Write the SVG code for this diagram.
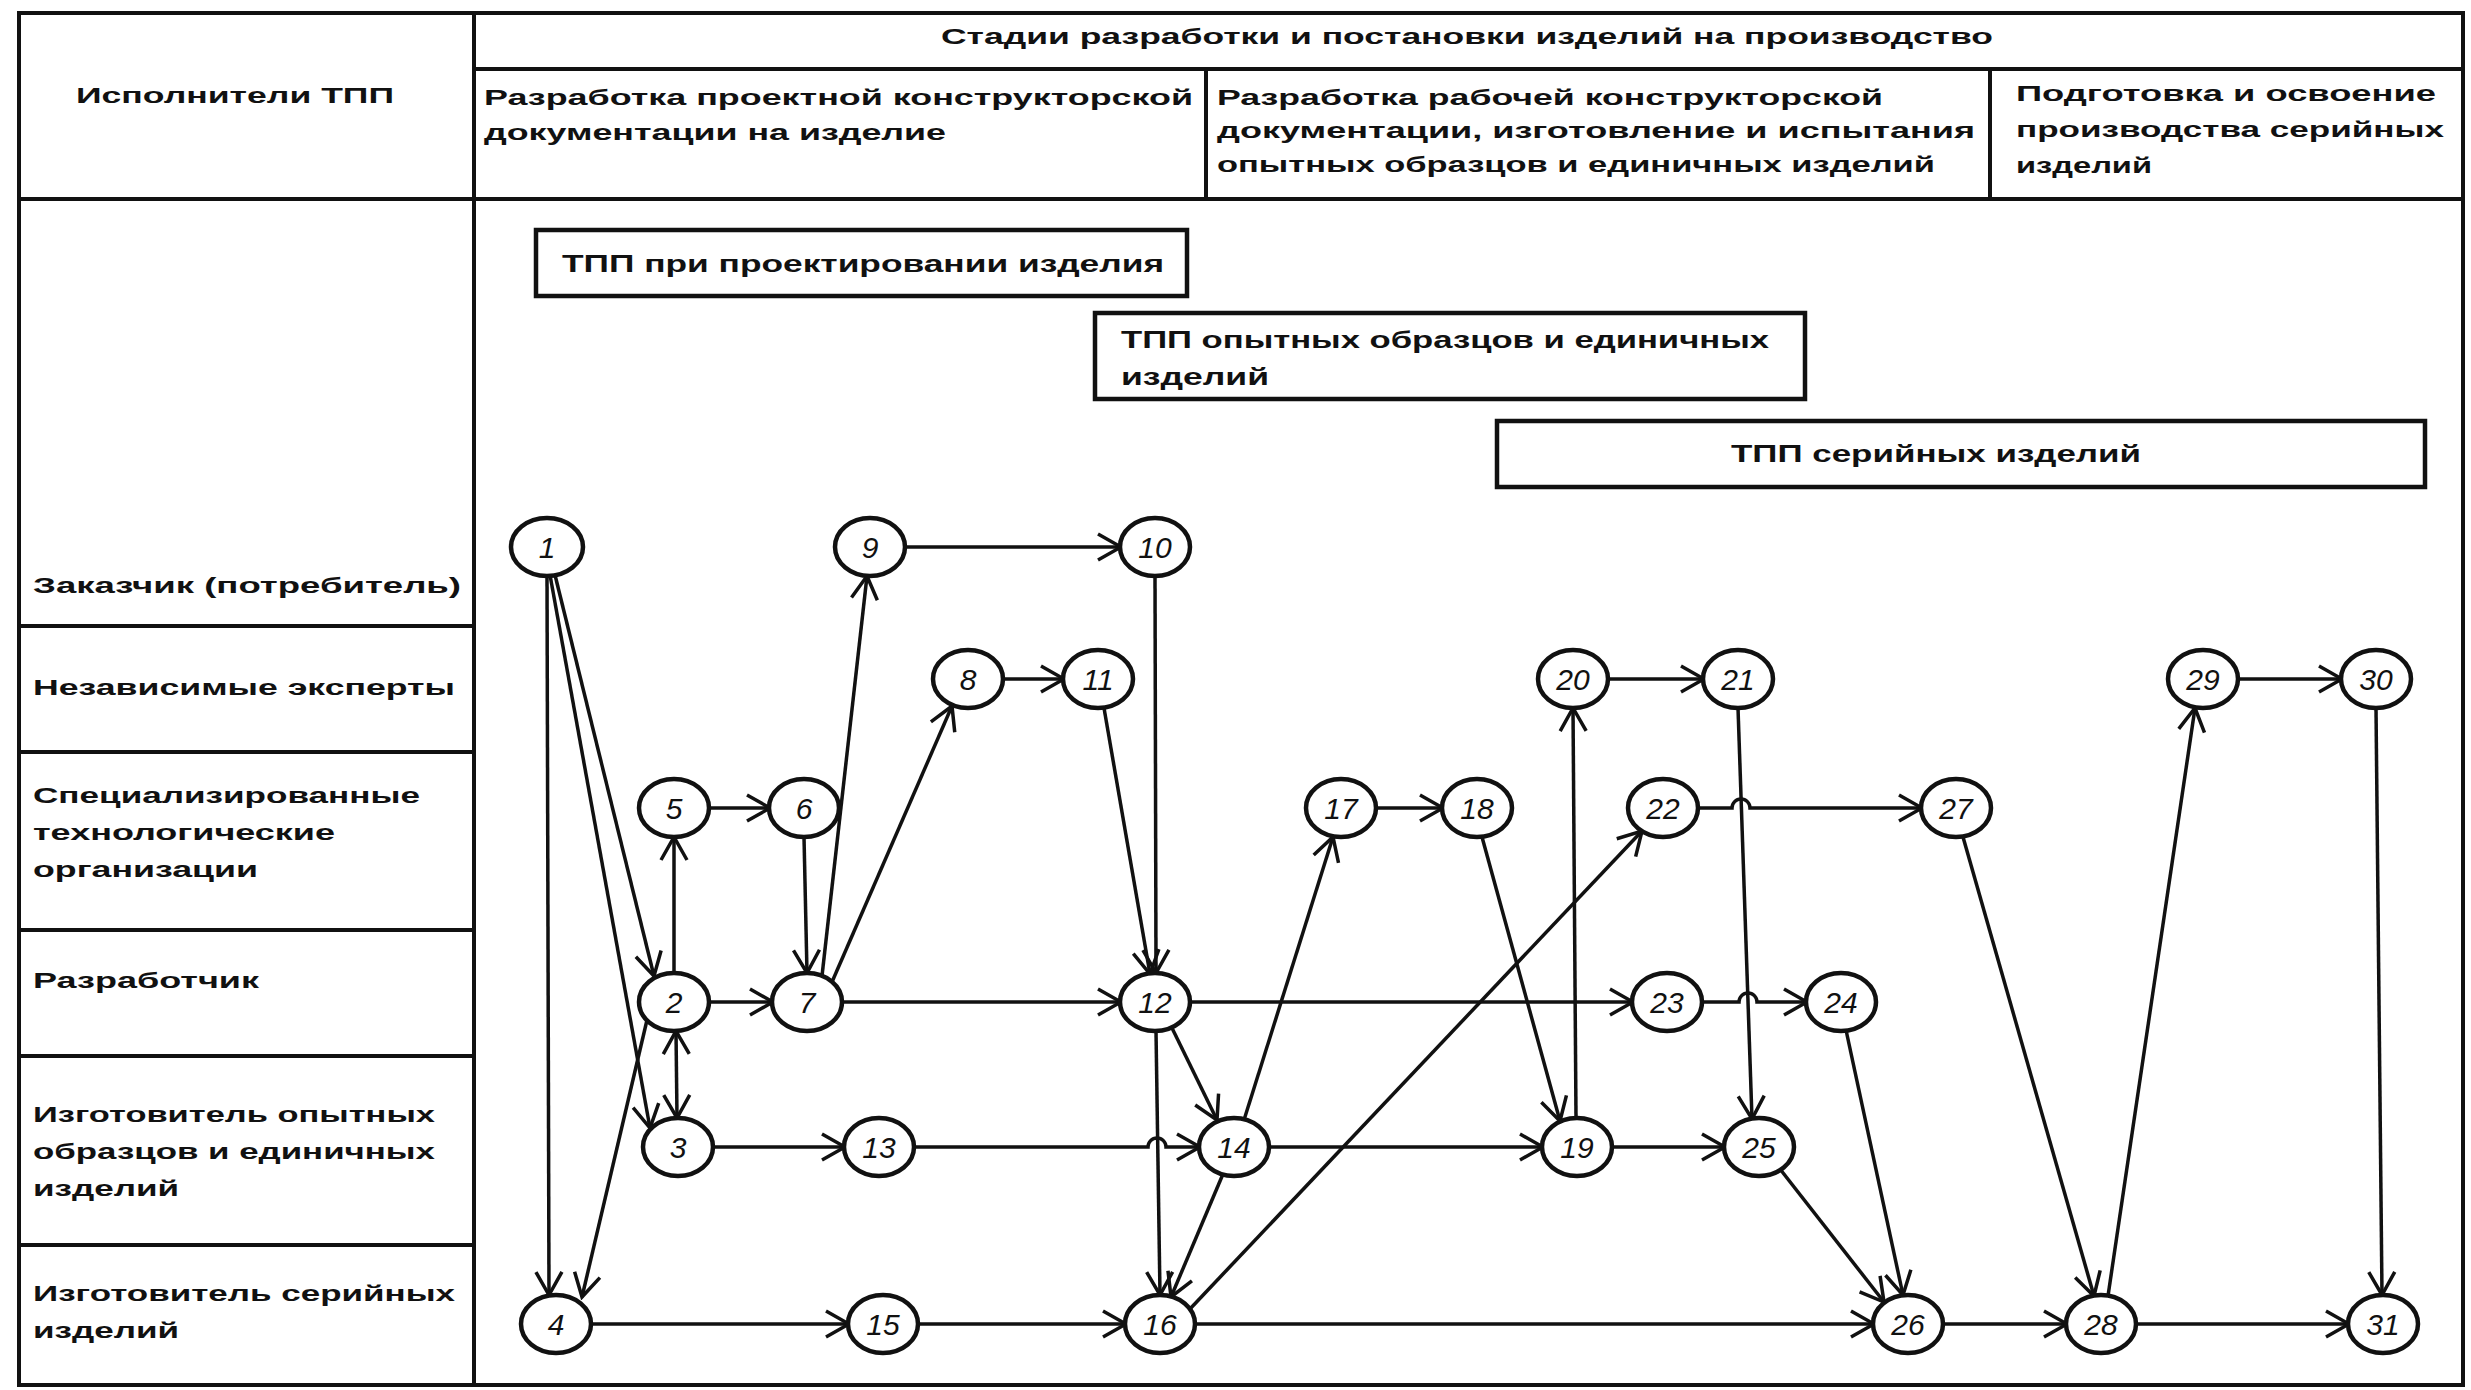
<svg xmlns="http://www.w3.org/2000/svg" width="2471" height="1390" viewBox="0 0 2471 1390">
<style>
.frame{fill:none;stroke:#111;stroke-width:4}
.ln{stroke:#111;stroke-width:4;fill:none}
.t{font-family:"Liberation Sans","Noto Sans",sans-serif;font-weight:bold;font-size:22px;fill:#111}
.bt{font-family:"Liberation Sans","Noto Sans",sans-serif;font-weight:bold;font-size:24px;fill:#111}
.box{fill:#fff;stroke:#111;stroke-width:4.5}
.node ellipse{fill:#fff;stroke:#111;stroke-width:4.5}
.node text{font-family:"Liberation Sans","DejaVu Sans",sans-serif;font-style:italic;font-size:30px;fill:#111;text-anchor:middle}
.c{stroke:#111;stroke-width:3.5;fill:none;marker-end:url(#arr)}
.c2{marker-start:url(#arr)}
</style>
<defs>
<marker id="arr" markerUnits="userSpaceOnUse" markerWidth="32" markerHeight="32" viewBox="0 0 32 32" refX="29" refY="16" orient="auto-start-reverse">
<path d="M6,3 L29,16 L6,29" fill="none" stroke="#111" stroke-width="3.5"/>
</marker>
</defs>
<rect width="2471" height="1390" fill="#fff"/>

<g id="table">
<rect class="frame" x="19" y="13" width="2444" height="1372"/>
<line class="ln" x1="474" y1="13" x2="474" y2="1385"/>
<line class="ln" x1="474" y1="69" x2="2463" y2="69"/>
<line class="ln" x1="19" y1="199" x2="2463" y2="199"/>
<line class="ln" x1="1206" y1="69" x2="1206" y2="199"/>
<line class="ln" x1="1990" y1="69" x2="1990" y2="199"/>
<line class="ln" x1="19" y1="626" x2="474" y2="626"/>
<line class="ln" x1="19" y1="752" x2="474" y2="752"/>
<line class="ln" x1="19" y1="930" x2="474" y2="930"/>
<line class="ln" x1="19" y1="1056" x2="474" y2="1056"/>
<line class="ln" x1="19" y1="1245" x2="474" y2="1245"/>

<text class="t" x="941" y="44" textLength="1052" lengthAdjust="spacingAndGlyphs">Стадии разработки и постановки изделий на производство</text>
<text class="t" x="76" y="103" textLength="318" lengthAdjust="spacingAndGlyphs">Исполнители ТПП</text>
<text class="t" x="484" y="105" textLength="709" lengthAdjust="spacingAndGlyphs">Разработка проектной конструкторской</text>
<text class="t" x="484" y="140" textLength="462" lengthAdjust="spacingAndGlyphs">документации на изделие</text>
<text class="t" x="1217" y="105" textLength="666" lengthAdjust="spacingAndGlyphs">Разработка рабочей конструкторской</text>
<text class="t" x="1217" y="138" textLength="758" lengthAdjust="spacingAndGlyphs">документации, изготовление и испытания</text>
<text class="t" x="1217" y="172" textLength="718" lengthAdjust="spacingAndGlyphs">опытных образцов и единичных изделий</text>
<text class="t" x="2016" y="101" textLength="420" lengthAdjust="spacingAndGlyphs">Подготовка и освоение</text>
<text class="t" x="2016" y="137" textLength="428" lengthAdjust="spacingAndGlyphs">производства серийных</text>
<text class="t" x="2016" y="173" textLength="136" lengthAdjust="spacingAndGlyphs">изделий</text>

<text class="t" x="33" y="593" textLength="428" lengthAdjust="spacingAndGlyphs">Заказчик (потребитель)</text>
<text class="t" x="33" y="695" textLength="422" lengthAdjust="spacingAndGlyphs">Независимые эксперты</text>
<text class="t" x="33" y="803" textLength="387" lengthAdjust="spacingAndGlyphs">Специализированные</text>
<text class="t" x="33" y="840" textLength="302" lengthAdjust="spacingAndGlyphs">технологические</text>
<text class="t" x="33" y="877" textLength="225" lengthAdjust="spacingAndGlyphs">организации</text>
<text class="t" x="33" y="988" textLength="226" lengthAdjust="spacingAndGlyphs">Разработчик</text>
<text class="t" x="33" y="1122" textLength="402" lengthAdjust="spacingAndGlyphs">Изготовитель опытных</text>
<text class="t" x="33" y="1159" textLength="402" lengthAdjust="spacingAndGlyphs">образцов и единичных</text>
<text class="t" x="33" y="1196" textLength="146" lengthAdjust="spacingAndGlyphs">изделий</text>
<text class="t" x="33" y="1301" textLength="422" lengthAdjust="spacingAndGlyphs">Изготовитель серийных</text>
<text class="t" x="33" y="1338" textLength="146" lengthAdjust="spacingAndGlyphs">изделий</text>
</g>

<g id="box-design">
<rect class="box" x="536" y="230" width="651" height="66"/>
<text class="bt" x="562" y="272" textLength="602" lengthAdjust="spacingAndGlyphs">ТПП при проектировании изделия</text>
</g>
<g id="box-prototype">
<rect class="box" x="1095" y="313" width="710" height="86"/>
<text class="bt" x="1121" y="348" textLength="648" lengthAdjust="spacingAndGlyphs">ТПП опытных образцов и единичных</text>
<text class="bt" x="1121" y="385" textLength="148" lengthAdjust="spacingAndGlyphs">изделий</text>
</g>
<g id="box-serial">
<rect class="box" x="1497" y="421" width="928" height="66"/>
<text class="bt" x="1731" y="462" textLength="410" lengthAdjust="spacingAndGlyphs">ТПП серийных изделий</text>
</g>

<g id="connectors">
<path class="c" d="M555,575 L654,976"/>
<path class="c" d="M550,575 L650,1128"/>
<path class="c" d="M547,575 L549,1295"/>
<path class="c" d="M647,1020 L582,1297"/>
<path class="c" d="M674,973 L674,837"/>
<path class="c c2" d="M676,1031 L677,1118"/>
<path class="c" d="M709,1002 L773,1002"/>
<path class="c" d="M709,808 L770,808"/>
<path class="c" d="M804,837 L807,973"/>
<path class="c" d="M822,976 L867,576"/>
<path class="c" d="M832,982 L952,706"/>
<path class="c" d="M905,547 L1121,547"/>
<path class="c" d="M1003,679 L1064,679"/>
<path class="c" d="M1155,576 L1156,973"/>
<path class="c" d="M1104,708 L1150,974"/>
<path class="c" d="M842,1002 L1121,1002"/>
<path class="c" d="M713,1147 L845,1147"/>
<path class="c" d="M914,1147 L1148,1147 A9,9 0 0 1 1166,1147 L1200,1147"/>
<path class="c" d="M591,1324 L849,1324"/>
<path class="c" d="M918,1324 L1126,1324"/>
<path class="c" d="M1172,1028 L1217,1120"/>
<path class="c" d="M1156,1031 L1160,1295"/>
<path class="c" d="M1223,1174 L1171,1297"/>
<path class="c" d="M1244,1120 L1333,837"/>
<path class="c" d="M1189,1310 L1642,831"/>
<path class="c" d="M1376,808 L1443,808"/>
<path class="c" d="M1482,837 L1560,1121"/>
<path class="c" d="M1190,1002 L1633,1002"/>
<path class="c" d="M1269,1147 L1543,1147"/>
<path class="c" d="M1576,1118 L1573,708"/>
<path class="c" d="M1608,679 L1704,679"/>
<path class="c" d="M1738,708 L1752,1119"/>
<path class="c" d="M1698,808 L1732,808 A9,9 0 0 1 1750,808 L1922,808"/>
<path class="c" d="M1702,1002 L1739,1002 A9,9 0 0 1 1757,1002 L1807,1002"/>
<path class="c" d="M1612,1147 L1725,1147"/>
<path class="c" d="M1846,1030 L1903,1295"/>
<path class="c" d="M1780,1169 L1884,1302"/>
<path class="c" d="M1195,1324 L1874,1324"/>
<path class="c" d="M1943,1324 L2067,1324"/>
<path class="c" d="M1963,837 L2094,1296"/>
<path class="c" d="M2108,1296 L2195,708"/>
<path class="c" d="M2238,679 L2342,679"/>
<path class="c" d="M2376,708 L2382,1295"/>
<path class="c" d="M2136,1324 L2349,1324"/>
</g>

<g id="n1" class="node"><ellipse cx="547" cy="547" rx="36" ry="29"/><text x="547" y="558">1</text></g>
<g id="n2" class="node"><ellipse cx="674" cy="1002" rx="35" ry="29"/><text x="674" y="1013">2</text></g>
<g id="n3" class="node"><ellipse cx="678" cy="1147" rx="35" ry="29"/><text x="678" y="1158">3</text></g>
<g id="n4" class="node"><ellipse cx="556" cy="1324" rx="35" ry="29"/><text x="556" y="1335">4</text></g>
<g id="n5" class="node"><ellipse cx="674" cy="808" rx="35" ry="29"/><text x="674" y="819">5</text></g>
<g id="n6" class="node"><ellipse cx="804" cy="808" rx="35" ry="29"/><text x="804" y="819">6</text></g>
<g id="n7" class="node"><ellipse cx="807" cy="1002" rx="35" ry="29"/><text x="807" y="1013">7</text></g>
<g id="n8" class="node"><ellipse cx="968" cy="679" rx="35" ry="29"/><text x="968" y="690">8</text></g>
<g id="n9" class="node"><ellipse cx="870" cy="547" rx="35" ry="29"/><text x="870" y="558">9</text></g>
<g id="n10" class="node"><ellipse cx="1155" cy="547" rx="35" ry="29"/><text x="1155" y="558">10</text></g>
<g id="n11" class="node"><ellipse cx="1098" cy="679" rx="35" ry="29"/><text x="1098" y="690">11</text></g>
<g id="n12" class="node"><ellipse cx="1155" cy="1002" rx="35" ry="29"/><text x="1155" y="1013">12</text></g>
<g id="n13" class="node"><ellipse cx="879" cy="1147" rx="35" ry="29"/><text x="879" y="1158">13</text></g>
<g id="n14" class="node"><ellipse cx="1234" cy="1147" rx="35" ry="29"/><text x="1234" y="1158">14</text></g>
<g id="n15" class="node"><ellipse cx="883" cy="1324" rx="35" ry="29"/><text x="883" y="1335">15</text></g>
<g id="n16" class="node"><ellipse cx="1160" cy="1324" rx="35" ry="29"/><text x="1160" y="1335">16</text></g>
<g id="n17" class="node"><ellipse cx="1341" cy="808" rx="35" ry="29"/><text x="1341" y="819">17</text></g>
<g id="n18" class="node"><ellipse cx="1477" cy="808" rx="35" ry="29"/><text x="1477" y="819">18</text></g>
<g id="n19" class="node"><ellipse cx="1577" cy="1147" rx="35" ry="29"/><text x="1577" y="1158">19</text></g>
<g id="n20" class="node"><ellipse cx="1573" cy="679" rx="35" ry="29"/><text x="1573" y="690">20</text></g>
<g id="n21" class="node"><ellipse cx="1738" cy="679" rx="35" ry="29"/><text x="1738" y="690">21</text></g>
<g id="n22" class="node"><ellipse cx="1663" cy="808" rx="35" ry="29"/><text x="1663" y="819">22</text></g>
<g id="n23" class="node"><ellipse cx="1667" cy="1002" rx="35" ry="29"/><text x="1667" y="1013">23</text></g>
<g id="n24" class="node"><ellipse cx="1841" cy="1002" rx="35" ry="29"/><text x="1841" y="1013">24</text></g>
<g id="n25" class="node"><ellipse cx="1759" cy="1147" rx="35" ry="29"/><text x="1759" y="1158">25</text></g>
<g id="n26" class="node"><ellipse cx="1908" cy="1324" rx="35" ry="29"/><text x="1908" y="1335">26</text></g>
<g id="n27" class="node"><ellipse cx="1956" cy="808" rx="35" ry="29"/><text x="1956" y="819">27</text></g>
<g id="n28" class="node"><ellipse cx="2101" cy="1324" rx="35" ry="29"/><text x="2101" y="1335">28</text></g>
<g id="n29" class="node"><ellipse cx="2203" cy="679" rx="35" ry="29"/><text x="2203" y="690">29</text></g>
<g id="n30" class="node"><ellipse cx="2376" cy="679" rx="35" ry="29"/><text x="2376" y="690">30</text></g>
<g id="n31" class="node"><ellipse cx="2383" cy="1324" rx="35" ry="29"/><text x="2383" y="1335">31</text></g>
</svg>
